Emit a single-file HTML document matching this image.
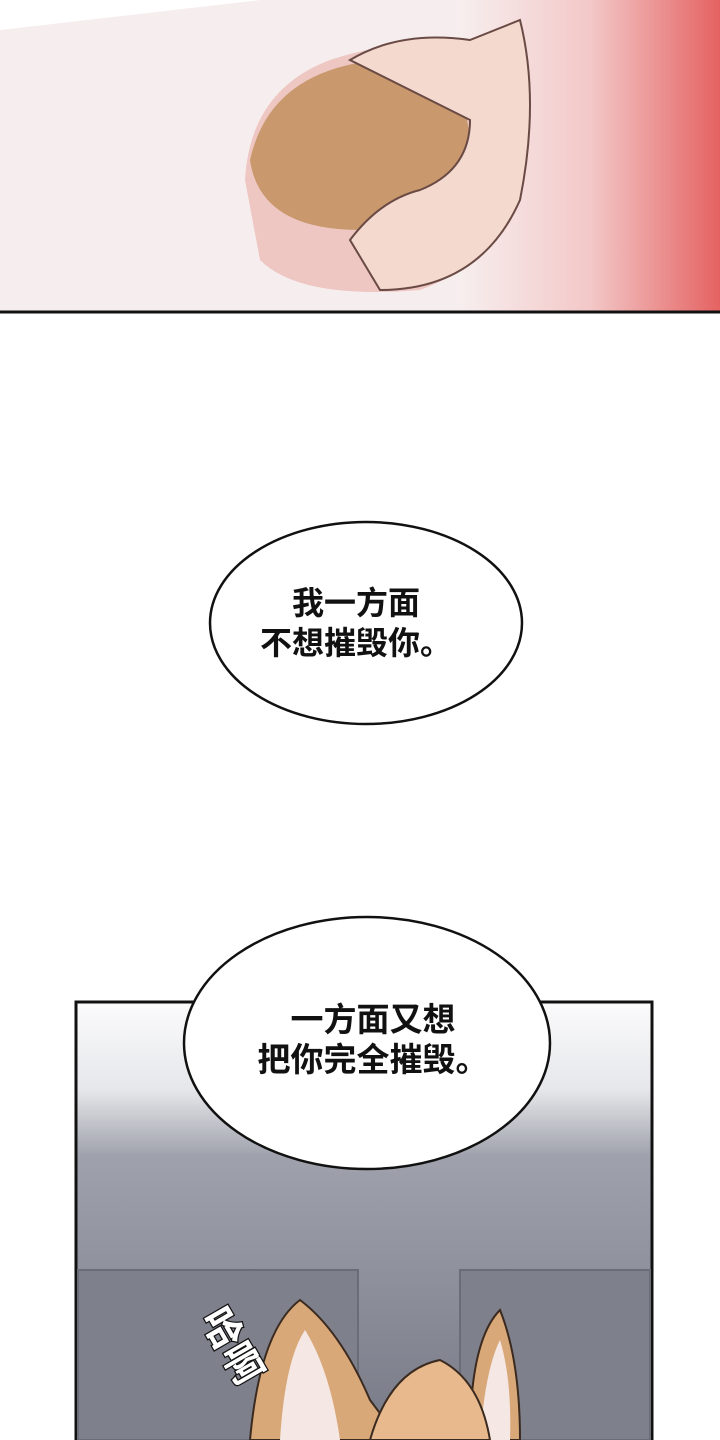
<!DOCTYPE html>
<html><head><meta charset="utf-8"><style>
body{margin:0;width:720px;height:1440px;position:relative;overflow:hidden;background:#fff;font-family:"Liberation Sans","Noto Sans CJK SC",sans-serif}
.t{position:absolute;font-size:32px;font-weight:bold;color:#111;text-align:center;line-height:40px}
</style></head><body>
<svg width="720" height="1440" style="position:absolute;left:0;top:0">
<defs>
<linearGradient id="red" x1="0" x2="1" y1="0" y2="0">
<stop offset="0" stop-color="#f7eeee"/><stop offset="0.5" stop-color="#f3c8c8"/><stop offset="1" stop-color="#e56262"/></linearGradient>
<linearGradient id="g2" x1="0" x2="0" y1="0" y2="1">
<stop offset="0" stop-color="#fbfbfc"/><stop offset="0.2" stop-color="#e6e7ea"/><stop offset="0.35" stop-color="#9fa1ac"/><stop offset="1" stop-color="#777986"/></linearGradient>
</defs>
<rect x="0" y="0" width="720" height="312" fill="#f6eeee"/>
<rect x="460" y="0" width="260" height="312" fill="url(#red)"/>
<path d="M0 30 L260 0 L0 0Z" fill="#fff"/>
<path d="M245 180 Q250 90 330 60 Q420 30 500 60 Q540 120 520 200 Q500 260 420 290 Q300 300 260 260Z" fill="#eec7c3"/>
<path d="M250 160 Q270 70 380 60 Q470 60 470 150 Q450 220 360 230 Q260 230 250 160Z" fill="#c9986c"/>
<path d="M350 60 Q400 30 470 40 L520 20 Q540 100 520 200 Q480 290 380 290 L350 240 Q380 200 420 190 Q470 170 470 120Z" fill="#f4d9cf" stroke="#6a4a44" stroke-width="2"/>
<line x1="0" y1="312" x2="720" y2="312" stroke="#111" stroke-width="3"/>
<rect x="76" y="1002" width="576" height="440" fill="url(#g2)" stroke="#111" stroke-width="3"/>
<rect x="460" y="1270" width="190" height="170" fill="#7e808c" stroke="#6a6c78" stroke-width="2"/>
<rect x="78" y="1270" width="280" height="170" fill="#7e808c" stroke="#6a6c78" stroke-width="2"/>
<path d="M250 1440 Q260 1330 300 1300 Q340 1330 370 1400 L400 1440Z" fill="#d9a878" stroke="#3a2a20" stroke-width="2"/>
<path d="M470 1440 Q470 1340 500 1310 Q520 1360 520 1440Z" fill="#d9a878" stroke="#3a2a20" stroke-width="2"/>
<path d="M280 1440 Q285 1360 305 1330 Q330 1370 340 1440Z" fill="#f5e7e4"/>
<path d="M480 1440 Q485 1370 500 1340 Q512 1380 510 1440Z" fill="#f5e7e4"/>
<path d="M370 1440 Q390 1370 440 1360 Q480 1380 490 1440Z" fill="#e7b98c" stroke="#3a2a20" stroke-width="2"/>
<ellipse cx="366" cy="623" rx="156" ry="101" fill="#fff" stroke="#111" stroke-width="2.5"/>
<ellipse cx="367" cy="1043" rx="183" ry="126" fill="#fff" stroke="#111" stroke-width="2.5"/>
<text x="200" y="1318" font-size="40" font-weight="bold" fill="#fff" stroke="#111" stroke-width="2.5" paint-order="stroke" transform="rotate(60 200 1318)" font-family="Noto Sans CJK SC,sans-serif">哈啊</text>
</svg>
<div class="t" style="left:206px;top:583px;width:300px">我一方面<br>不想摧毁你。</div>
<div class="t" style="left:223px;top:1000px;width:300px;font-size:33px">一方面又想<br>把你完全摧毁。</div>
</body></html>
